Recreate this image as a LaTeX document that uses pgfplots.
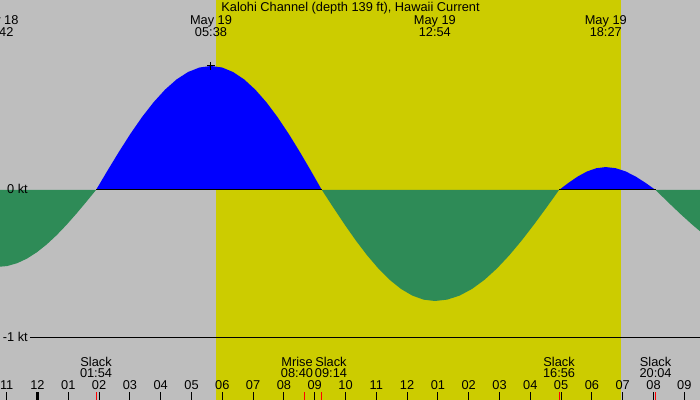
\documentclass[border=0pt]{standalone}
\usepackage{pgfplots}
\pgfplotsset{compat=1.18}
\usepackage{fontspec}
\setmainfont{Liberation Sans}
\definecolor{bggray}{RGB}{190,190,190}
\definecolor{dayyel}{RGB}{204,204,0}
\definecolor{ebbgreen}{RGB}{46,139,87}
\definecolor{floodblue}{RGB}{0,0,255}
\newcommand\fs{\fontsize{12.8bp}{14bp}\selectfont}
\begin{document}
\begin{tikzpicture}[lab/.style={font=\fs, inner sep=0pt}]
\begin{axis}[name=ax, scale only axis, width=700bp, height=400bp,
  xmin=-1.2175, xmax=21.5097, ymin=-1.41892, ymax=1.28378,
  axis background/.style={fill=bggray},
  axis line style={draw=none},
  axis on top,
  ytick=\empty,
  xtick={-1,...,21},
  xticklabels={11,12,01,02,03,04,05,06,07,08,09,10,11,12,01,02,03,04,05,06,07,08,09},
  xtick pos=left,
  tick align=inside,
  major tick length=8.3bp,
  tick style={black, line width=1bp},
  xticklabel style={anchor=base, yshift=10.7bp, font=\fs, inner sep=0pt},
  /pgf/number format/assume math mode=true,
]
% daylight
\fill[dayyel] (axis cs:5.795,-1.41892) rectangle (axis cs:18.96,1.28378);
% ebb before first slack
\addplot[fill=ebbgreen, draw=none] coordinates {
(-1.30,0) (-1.30,-0.52) (-0.98,-0.5136) (-0.66,-0.4946) (-0.34,-0.4633) (-0.02,-0.4207)
(0.30,-0.3677) (0.62,-0.3057) (0.94,-0.2361) (1.26,-0.1607) (1.58,-0.0813) (1.90,0)} \closedcycle;
% flood
\addplot[fill=floodblue, draw=none] coordinates {
(1.90,0) (2.273,0.1311) (2.647,0.2589) (3.020,0.3805) (3.393,0.4926) (3.767,0.5925)
(4.140,0.6779) (4.513,0.7467) (4.886,0.7970) (5.260,0.8277) (5.633,0.838)
(5.993,0.8277) (6.353,0.7970) (6.713,0.7467) (7.073,0.6779) (7.433,0.5925)
(7.793,0.4926) (8.153,0.3805) (8.513,0.2589) (8.873,0.1311) (9.233,0)} \closedcycle;
% ebb
\addplot[fill=ebbgreen, draw=none] coordinates {
(9.233,0) (9.600,-0.1173) (9.966,-0.2318) (10.333,-0.3405) (10.700,-0.4409) (11.067,-0.5303)
(11.433,-0.6068) (11.800,-0.6683) (12.167,-0.7133) (12.533,-0.7408) (12.900,-0.75)
(13.303,-0.7408) (13.707,-0.7133) (14.110,-0.6683) (14.513,-0.6068) (14.917,-0.5303)
(15.320,-0.4409) (15.723,-0.3405) (16.126,-0.2318) (16.530,-0.1173) (16.933,0)} \closedcycle;
% small flood
\addplot[fill=floodblue, draw=none] coordinates {
(16.933,0) (17.236,0.0479) (17.540,0.0911) (17.843,0.1254) (18.147,0.1474) (18.450,0.155)
(18.773,0.1474) (19.097,0.1254) (19.420,0.0911) (19.744,0.0479) (20.067,0)} \closedcycle;
% ebb after last slack
\addplot[fill=ebbgreen, draw=none] coordinates {
(20.067,0) (20.467,-0.0813) (20.867,-0.1607) (21.267,-0.2361) (21.667,-0.3057) (21.667,0)} \closedcycle;
% zero line under flood
\draw[black, line width=1bp] (axis cs:1.9,0) -- (axis cs:9.233,0);
\draw[black, line width=1bp] (axis cs:16.933,0) -- (axis cs:20.067,0);
% -1 kt line
\draw[black, line width=1bp] (axis cs:-0.2435,-1) -- (axis cs:21.6,-1);
% peak marker
\addplot[only marks, mark=+, mark size=4bp, black, mark options={line width=1bp}] coordinates {(5.633,0.838)};
% special ticks
\draw[black, line width=3bp] (axis cs:0,-1.41892) -- (axis cs:0,-1.3628);
\draw[red, line width=1bp] (axis cs:1.9,-1.41892) -- (axis cs:1.9,-1.3628);
\draw[red, line width=1bp] (axis cs:8.667,-1.41892) -- (axis cs:8.667,-1.3628);
\draw[red, line width=1bp] (axis cs:9.233,-1.41892) -- (axis cs:9.233,-1.3628);
\draw[red, line width=1bp] (axis cs:16.933,-1.41892) -- (axis cs:16.933,-1.3628);
\draw[red, line width=1bp] (axis cs:20.067,-1.41892) -- (axis cs:20.067,-1.3628);
% kt labels
\node[lab, anchor=base east] at (axis cs:-0.3084,-0.027) {0 kt};
\node[lab, anchor=base east] at (axis cs:-0.3084,-1.027) {-1 kt};
% title and top labels
\node[lab, anchor=base] at (axis cs:10.162,1.2047) {Kalohi Channel (depth 139 ft), Hawaii Current};
\node[lab, anchor=base] at (axis cs:-1.30,1.1169) {May 18};
\node[lab, anchor=base] at (axis cs:-1.30,1.0405) {22:42};
\node[lab, anchor=base] at (axis cs:5.633,1.1169) {May 19};
\node[lab, anchor=base] at (axis cs:5.633,1.0405) {05:38};
\node[lab, anchor=base] at (axis cs:12.9,1.1169) {May 19};
\node[lab, anchor=base] at (axis cs:12.9,1.0405) {12:54};
\node[lab, anchor=base] at (axis cs:18.45,1.1169) {May 19};
\node[lab, anchor=base] at (axis cs:18.45,1.0405) {18:27};
% bottom event labels
\node[lab, anchor=base] at (axis cs:1.9,-1.1912) {Slack};
\node[lab, anchor=base] at (axis cs:1.9,-1.2682) {01:54};
\node[lab, anchor=base] at (axis cs:8.425,-1.1912) {Mrise};
\node[lab, anchor=base] at (axis cs:8.425,-1.2682) {08:40};
\node[lab, anchor=base] at (axis cs:9.529,-1.1912) {Slack};
\node[lab, anchor=base] at (axis cs:9.529,-1.2682) {09:14};
\node[lab, anchor=base] at (axis cs:16.933,-1.1912) {Slack};
\node[lab, anchor=base] at (axis cs:16.933,-1.2682) {16:56};
\node[lab, anchor=base] at (axis cs:20.067,-1.1912) {Slack};
\node[lab, anchor=base] at (axis cs:20.067,-1.2682) {20:04};
\end{axis}
\pgfresetboundingbox
\useasboundingbox (ax.south west) rectangle (ax.north east);
\end{tikzpicture}
\end{document}
